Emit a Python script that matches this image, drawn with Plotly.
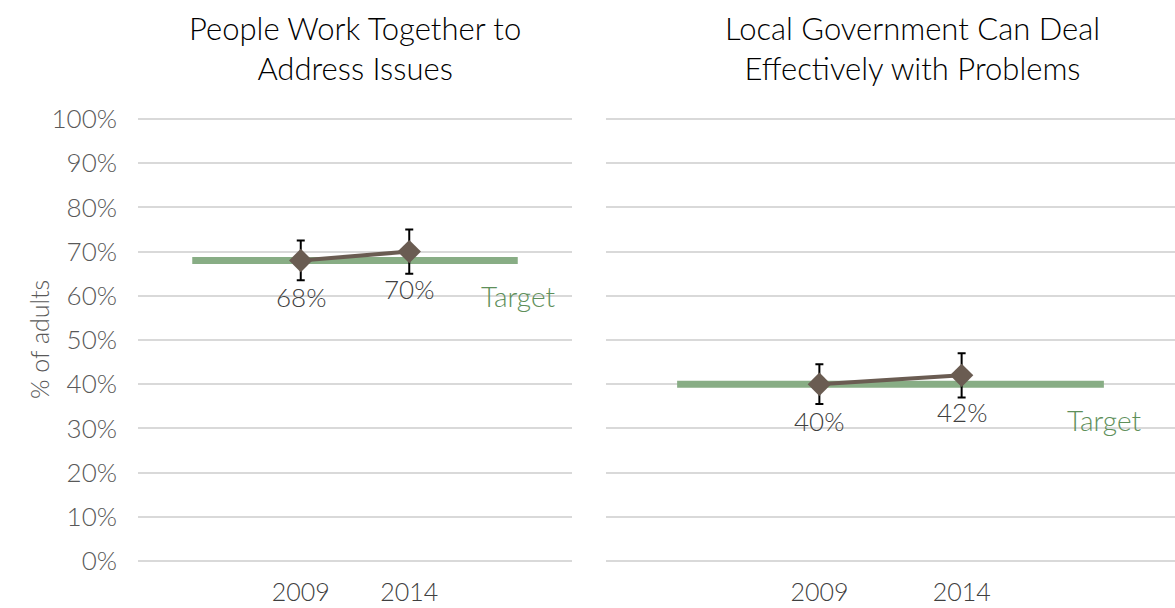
import plotly.graph_objects as go

# ---- data ----
categories = ["2009", "2014"]
cat_positions = [1.5, 2.5]
left_values = [68, 70]
left_errors = [4.5, 5]
right_values = [40, 42]
right_errors = [4.5, 5]
targets = [68, 40]
target_span = [0.5, 3.5]
titles = ["People Work Together to<br>Address Issues",
          "Local Government Can Deal<br>Effectively with Problems"]
y_ticks = list(range(0, 101, 10))
y_tick_labels = [f"{v}%" for v in y_ticks]

FONT = "Lato"
LINE_COLOR = "#6A5C52"
TARGET_COLOR = "#88AD85"
TARGET_TEXT = "#5E8F5A"
GRID = "#D9D9D9"

W, H = 1175, 608
fig = go.Figure()

panels = [
    ("x", "y", left_values, left_errors, targets[0]),
    ("x2", "y2", right_values, right_errors, targets[1]),
]

for xa, ya, vals, errs, tgt in panels:
    fig.add_trace(go.Scatter(
        x=target_span, y=[tgt, tgt], mode="lines",
        line=dict(color=TARGET_COLOR, width=7),
        xaxis=xa, yaxis=ya, showlegend=False, hoverinfo="skip"))
    fig.add_trace(go.Scatter(
        x=cat_positions, y=vals, mode="lines+markers",
        line=dict(color=LINE_COLOR, width=4),
        marker=dict(symbol="diamond", size=18, color=LINE_COLOR),
        error_y=dict(type="data", array=errs, visible=True,
                     color="#000000", thickness=2, width=4),
        xaxis=xa, yaxis=ya, showlegend=False))

annotations = []
for xa, ya, vals, tgt in [("x", "y", left_values, targets[0]),
                          ("x2", "y2", right_values, targets[1])]:
    for xp, v in zip(cat_positions, vals):
        annotations.append(dict(
            x=xp, y=v, xref=xa, yref=ya, text=f"{v}%", showarrow=False,
            yshift=-37, font=dict(family=FONT, size=26, color="#404040",
                                 weight=300)))
    annotations.append(dict(
        x=target_span[1], y=tgt, xref=xa, yref=ya, text="Target",
        showarrow=False, yshift=-36,
        font=dict(family=FONT, size=28, color=TARGET_TEXT, weight=300)))

annotations.append(dict(x=355 / W, y=1 - 7 / H, xref="paper", yref="paper",
                        text=titles[0], showarrow=False, xanchor="center",
                        yanchor="top",
                        font=dict(family=FONT, size=31, color="#000000",
                                  weight=300)))
annotations.append(dict(x=912 / W, y=1 - 7 / H, xref="paper", yref="paper",
                        text=titles[1], showarrow=False, xanchor="center",
                        yanchor="top",
                        font=dict(family=FONT, size=31, color="#000000",
                                  weight=300)))
annotations.append(dict(x=22 / W, y=1 - 340 / H, xref="paper", yref="paper",
                        text="% of adults", showarrow=False, textangle=-90,
                        font=dict(family=FONT, size=25, color="#595959",
                                  weight=300)))

PX_PER_UNIT = 4.42
ytop = 100.5
ydom = [1 - 561 / H, 1 - (119 - (ytop - 100) * PX_PER_UNIT) / H]
common_y = dict(range=[0, ytop], tickvals=y_ticks, showgrid=True,
                gridcolor=GRID, gridwidth=2, zeroline=True,
                zerolinecolor=GRID, zerolinewidth=2, showline=False,
                domain=ydom, fixedrange=True, automargin=False)
common_x = dict(range=[0, 4], tickvals=cat_positions, ticktext=categories,
                showgrid=False, zeroline=False, showline=False,
                ticks="", ticklabelstandoff=14, automargin=False,
                fixedrange=True,
                tickfont=dict(family=FONT, size=25, color="#404040",
                              weight=300))

fig.update_layout(
    width=W, height=H, autosize=False,
    margin=dict(l=0, r=0, t=0, b=0, pad=0, autoexpand=False),
    paper_bgcolor="white", plot_bgcolor="white",
    font=dict(family=FONT),
    xaxis=dict(domain=[138 / W, 572 / W], anchor="y", **common_x),
    xaxis2=dict(domain=[606 / W, 1.0], anchor="y2", **common_x),
    yaxis=dict(anchor="x", ticktext=y_tick_labels, showticklabels=True,
               ticks="", ticklabelstandoff=20,
               tickfont=dict(family=FONT, size=26, color="#595959",
                             weight=300), **common_y),
    yaxis2=dict(anchor="x2", showticklabels=False, **common_y),
    annotations=annotations,
)

fig.write_html("out.html", config={"displayModeBar": False},
               post_script="document.body.style.margin='0';")
